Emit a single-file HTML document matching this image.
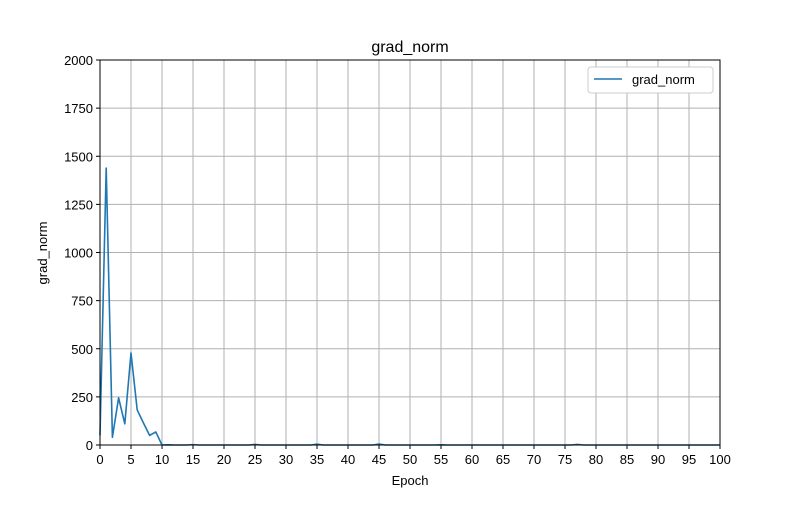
<!DOCTYPE html>
<html><head><meta charset="utf-8"><style>
body{margin:0;background:#fff;font-family:"Liberation Sans","DejaVu Sans",sans-serif}
</style></head><body>
<svg id="c" width="800" height="500" xmlns="http://www.w3.org/2000/svg"></svg>
<script>
const epochs=[];for(let i=0;i<=100;i++)epochs.push(i);
const gradNorm=[50,1439,40,245,110,478,182,115,50,68,0,1,0,0,0,2,0,0,0,0,0,0,0,0,0,3,0,0,0,0,0,0,0,0,0,4,0,0,0,0,0,0,0,0,0,5,0,0,0,0,0,0,0,0,0,1,0,0,0,0,0,0,0,0,0,0,0,0,0,0,0,0,0,0,0,0,0,3,0,0,0,0,0,0,0,0,0,0,0,0,0,0,0,0,0,0,0,0,0,0,0];
const xTicks=[0,5,10,15,20,25,30,35,40,45,50,55,60,65,70,75,80,85,90,95,100];
const yTicks=[0,250,500,750,1000,1250,1500,1750,2000];
const L=100,R=720,T=60,B=445;
const xs=v=>L+(v-0)/(100)*(R-L), ys=v=>B-v/2000*(B-T);
const svg=document.getElementById('c'),NS='http://www.w3.org/2000/svg';
function mk(t,a,txt){const e=document.createElementNS(NS,t);for(const k in a)e.setAttribute(k,a[k]);if(txt!==undefined)e.textContent=txt;svg.appendChild(e);return e;}
xTicks.forEach(t=>{
 const g=mk('line',{x1:xs(t),x2:xs(t),y1:T,y2:B,stroke:'#b0b0b0','stroke-width':1});
 
 
 mk('line',{x1:xs(t),x2:xs(t),y1:B,y2:B+4,stroke:'#000'});
 const l=mk('text',{x:xs(t),y:B+19,'text-anchor':'middle','font-size':13},t);
 
 
});
yTicks.forEach(t=>{
 const g=mk('line',{x1:L,x2:R,y1:ys(t),y2:ys(t),stroke:'#b0b0b0','stroke-width':1});
 
 
 mk('line',{x1:L-4,x2:L,y1:ys(t),y2:ys(t),stroke:'#000'});
 const l=mk('text',{x:L-7,y:ys(t)+5,'text-anchor':'end','font-size':13},t);
 
 
});
const p=mk('polyline',{points:epochs.map((e,i)=>xs(e)+','+ys(gradNorm[i])).join(' '),fill:'none',stroke:'#1f77b4','stroke-width':1.6,'stroke-linejoin':'round'});


const fr=mk('rect',{x:L,y:T,width:R-L,height:B-T,fill:'none',stroke:'#000','stroke-width':1});


const ti=mk('text',{x:410,y:52,'text-anchor':'middle','font-size':16},'grad_norm');


const xt=mk('text',{x:410,y:485,'text-anchor':'middle','font-size':13},'Epoch');


const yt=mk('text',{x:47,y:253,'text-anchor':'middle','font-size':13,transform:'rotate(-90 47 253)'},'grad_norm');


const lg=mk('rect',{x:588,y:67,width:125,height:26,rx:3,fill:'#fff',stroke:'#ccc'});


const ll=mk('line',{x1:594,x2:622,y1:79,y2:79,stroke:'#1f77b4','stroke-width':1.6});


const lt=mk('text',{x:632,y:84,'font-size':13},'grad_norm');


</script>
</body></html>
